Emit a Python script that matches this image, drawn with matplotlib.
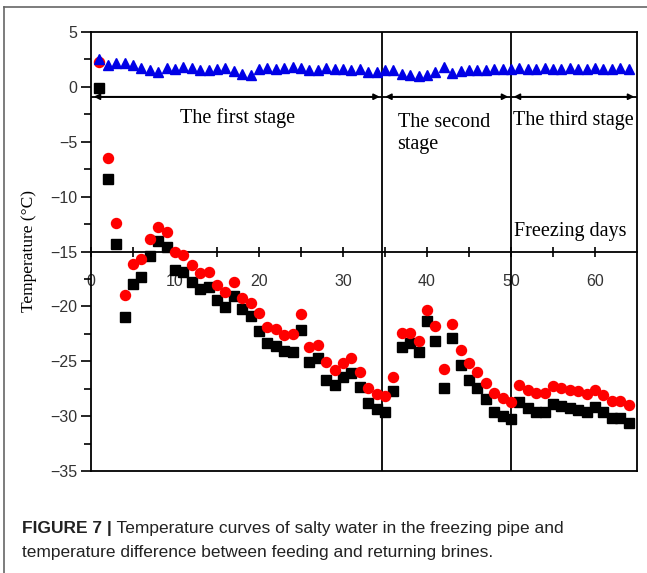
import numpy as np
import matplotlib
matplotlib.use("Agg")
import matplotlib.pyplot as plt
from matplotlib.lines import Line2D

# Freezing days (one reading per day)
days = np.arange(1, 65)

# Returning brine temperature (red circles)
t_return = [2.3, -6.5, -12.4, -19.0, -16.15, -15.7, -13.9, -12.8, -13.2, -15.0,
            -15.3, -16.2, -17.0, -16.9, -18.05, -18.65, -17.75, -19.25, -19.7, -20.6,
            -21.85, -22.1, -22.6, -22.5, -20.7, -23.7, -23.5, -25.1, -25.8, -25.2,
            -24.7, -26.0, -27.45, -27.95, -28.2, -26.4, -22.4, -22.4, -23.2, -20.3,
            -21.8, -25.7, -21.6, -24.0, -25.2, -25.95, -26.95, -27.9, -28.35, -28.75,
            -27.15, -27.6, -27.85, -27.9, -27.3, -27.45, -27.6, -27.75, -27.95, -27.65,
            -28.05, -28.65, -28.65, -28.95]

# Feeding brine temperature (black squares)
t_feed = [-0.1, -8.4, -14.3, -21.0, -18.0, -17.3, -15.4, -14.0, -14.6, -16.7,
          -16.9, -17.8, -18.4, -18.25, -19.4, -20.1, -19.1, -20.2, -20.9, -22.2,
          -23.35, -23.65, -24.05, -24.2, -22.15, -25.1, -24.7, -26.7, -27.15, -26.4,
          -26.1, -27.35, -28.8, -29.35, -29.65, -27.75, -23.7, -23.35, -24.2, -21.3,
          -23.2, -27.45, -22.9, -25.3, -26.7, -27.45, -28.45, -29.65, -29.95, -30.25,
          -28.75, -29.25, -29.6, -29.6, -28.9, -29.05, -29.25, -29.45, -29.6, -29.2,
          -29.65, -30.2, -30.2, -30.6]

# Temperature difference between feeding and returning brines (blue triangles)
t_diff = [2.5, 2.0, 2.15, 2.2, 2.0, 1.75, 1.55, 1.4, 1.7, 1.6,
          1.85, 1.7, 1.5, 1.5, 1.6, 1.7, 1.45, 1.2, 1.1, 1.6,
          1.7, 1.6, 1.7, 1.85, 1.7, 1.55, 1.5, 1.7, 1.6, 1.65,
          1.5, 1.6, 1.4, 1.4, 1.55, 1.5, 1.2, 1.05, 1.0, 1.1,
          1.4, 1.85, 1.3, 1.45, 1.5, 1.5, 1.55, 1.65, 1.6, 1.65,
          1.7, 1.6, 1.65, 1.7, 1.6, 1.65, 1.7, 1.6, 1.65, 1.7,
          1.6, 1.65, 1.7, 1.6]

# Stage boundaries (days)
stage_bounds = [0, 34.7, 50, 65]
stage_line_y = -0.9

x_ticks = [0, 10, 20, 30, 40, 50, 60]
y_ticks = [5, 0, -5, -10, -15, -20, -25, -30, -35]

serif = "Liberation Serif"
sans = "Liberation Sans"

fig = plt.figure(figsize=(6.47, 5.73), dpi=100)
ax = fig.add_axes([91 / 647, 1 - 471 / 573, 546 / 647, 439 / 573])

ax.plot(days, t_feed, "s", color="black", ms=6.6, zorder=3)
ax.plot(days, t_return, "o", color="#ff0000", ms=7.2, zorder=4)
ax.plot(days, t_diff, "^", color="#0000e6", ms=6.5, zorder=5)

ax.set_xlim(0, 65)
ax.set_ylim(-35, 5)

for s in ax.spines.values():
    s.set_linewidth(1.3)
    s.set_color("black")

# y axis
ax.set_yticks(y_ticks)
ax.set_yticks(np.arange(-32.5, 5, 5), minor=True)
ax.set_yticklabels([str(v).replace("-", "\u2212") for v in y_ticks],
                   fontfamily=sans, fontsize=11.5, color="#333333")
ax.tick_params(axis="y", which="major", direction="out", length=7, width=1.2, pad=3)
ax.tick_params(axis="y", which="minor", direction="out", length=5, width=1.2)
ax.set_ylabel("Temperature (\u00b0C)", fontfamily=serif, fontsize=12.5, labelpad=9)

# x axis crosses at -15 (halfway up)
ax.set_xticks([])
xax = ax.secondary_xaxis(0.5)
xax.set_alignment("bottom")
xax.spines["bottom"].set_linewidth(1.3)
xax.set_xticks(x_ticks)
xax.set_xticks(np.arange(5, 65, 10), minor=True)
xax.set_xticklabels([str(v) for v in x_ticks], fontfamily=sans, fontsize=11.5,
                    color="#333333")
xax.tick_params(which="both", direction="inout", length=7, width=1.2, pad=13)

# stage separators
for b in stage_bounds[1:-1]:
    ax.axvline(b, color="black", lw=1.3, zorder=2)

ax.axhline(stage_line_y, color="black", lw=1.3, zorder=2)
for a, b in zip(stage_bounds[:-1], stage_bounds[1:]):
    ax.annotate("", xy=(a, stage_line_y), xytext=(b, stage_line_y),
                arrowprops=dict(arrowstyle="<|-|>,head_length=0.35,head_width=0.18",
                                color="black", lw=1.2, shrinkA=2, shrinkB=2))

ax.text(10.6, -2.85, "The first stage", fontfamily=serif, fontsize=14.5, va="center")
ax.text(36.5, -4.25, "The second\nstage", fontfamily=serif, fontsize=14.5, va="center",
        linespacing=1.25)
ax.text(50.2, -3.1, "The third stage", fontfamily=serif, fontsize=14.5, va="center")
ax.text(50.4, -13.2, "Freezing days", fontfamily=serif, fontsize=14.5, va="center")

# frame around the figure panel
fig.add_artist(Line2D([4 / 647, 1], [1 - 7 / 573] * 2, color="#666666", lw=1.2))
fig.add_artist(Line2D([4 / 647] * 2, [0, 1 - 7 / 573], color="#666666", lw=1.2))

# caption
cap = fig.text(22 / 647, 1 - 529 / 573, "FIGURE 7 |", fontfamily=sans, fontweight="bold",
               fontsize=12.5, color="#222222", va="center")
ax.annotate(" Temperature curves of salty water in the freezing pipe and",
            xy=(1, 0.5), xycoords=cap, va="center", fontfamily=sans,
            fontsize=12.5, color="#222222", annotation_clip=False)
fig.text(22 / 647, 1 - 553 / 573,
         "temperature difference between feeding and returning brines.",
         fontfamily=sans, fontsize=12.5, color="#222222", va="center")

fig.savefig("out.png", dpi=100)
